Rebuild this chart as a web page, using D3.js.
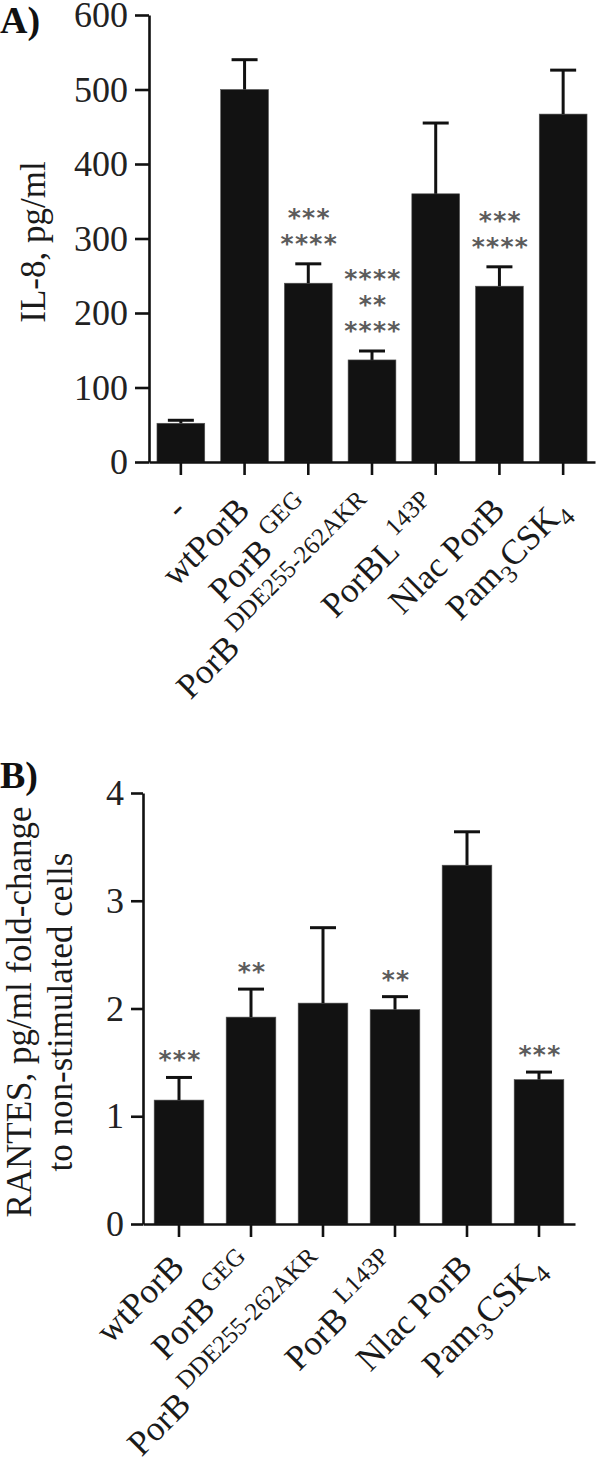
<!DOCTYPE html>
<html>
<head>
<meta charset="utf-8">
<script src="https://cdn.jsdelivr.net/npm/d3@7"></script>
<style>
  body { margin: 0; background: #fff; }
  svg { display: block; }
  text { font-family: "Liberation Serif", "Times New Roman", serif; }
  text.star { font-family: "DejaVu Sans", sans-serif; }
</style>
</head>
<body>
<script>
// panel A: IL-8
var catsA = ["-", "wtPorB", "PorB^{GEG}", "PorB^{DDE255-262AKR}", "PorBL^{143P}", "Nlac PorB", "Pam_{3}CSK_{4}"];
var meansA = [52, 500, 240, 137, 360, 236, 467];
var semA = [4, 40, 26, 12, 95, 26, 59];
var starsA = [[], [], ["***", "****"], ["****", "**", "****"], [], ["***", "****"], []];
var ticksA = [0, 100, 200, 300, 400, 500, 600];

// panel B: RANTES
var catsB = ["wtPorB", "PorB^{GEG}", "PorB^{DDE255-262AKR}", "PorB^{L143P}", "Nlac PorB", "Pam_{3}CSK_{4}"];
var meansB = [1.15, 1.92, 2.05, 1.99, 3.33, 1.34];
var semB = [0.21, 0.26, 0.70, 0.12, 0.31, 0.07];
var starsB = [["***"], ["**"], [], ["**"], [], ["***"]];
var ticksB = [0, 1, 2, 3, 4];

var svg = d3.select("body").append("svg")
  .attr("width", 600)
  .attr("height", 1467);

// writes "PorB^{GEG}" / "Pam_{3}CSK_{4}" as tspans
function addLabel(text, str) {
  var parts = str.split(/([\^_]\{[^}]*\})/).filter(function(p) { return p; });
  var shift = 0;
  parts.forEach(function(p) {
    var target = 0, small = false, sup = false;
    if (p[0] === "^") { target = -16; small = true; sup = true; p = p.slice(2, -1); }
    else if (p[0] === "_") { target = 9; small = true; p = p.slice(2, -1); }
    var t = text.append("tspan").attr("dy", target - shift).text(p);
    if (small) t.attr("font-size", 25);
    if (sup) t.attr("dx", 7);
    shift = target;
  });
}

function drawPanel(o) {
  var g = svg.append("g");

  var x = d3.scaleBand()
    .domain(o.cats)
    .range(o.xRange)
    .paddingInner(o.pad)
    .paddingOuter(o.pad / 2);

  var y = d3.scaleLinear()
    .domain([0, o.ticks[o.ticks.length - 1]])
    .range(o.yRange);

  var x0 = o.xRange[0], yBase = o.yRange[0];

  // bars
  g.selectAll("rect.bar")
    .data(o.means)
    .enter().append("rect")
    .attr("class", "bar")
    .attr("x", function(d, i) { return x(o.cats[i]); })
    .attr("y", function(d) { return y(d); })
    .attr("width", x.bandwidth())
    .attr("height", function(d) { return yBase - y(d); })
    .attr("fill", "#121212")
    .attr("stroke", "#555")
    .attr("stroke-width", 0.6);

  // error bars (upper only)
  var cx = function(i) { return x(o.cats[i]) + x.bandwidth() / 2; };
  g.selectAll("line.err")
    .data(o.means)
    .enter().append("line")
    .attr("x1", function(d, i) { return cx(i); })
    .attr("x2", function(d, i) { return cx(i); })
    .attr("y1", function(d) { return y(d); })
    .attr("y2", function(d, i) { return y(d + o.sem[i]); })
    .attr("stroke", "#111").attr("stroke-width", 3);
  g.selectAll("line.cap")
    .data(o.means)
    .enter().append("line")
    .attr("x1", function(d, i) { return cx(i) - 13; })
    .attr("x2", function(d, i) { return cx(i) + 13; })
    .attr("y1", function(d, i) { return y(d + o.sem[i]); })
    .attr("y2", function(d, i) { return y(d + o.sem[i]); })
    .attr("stroke", "#111").attr("stroke-width", 3);

  // significance stars, one text per bar, one tspan per line
  o.stars.forEach(function(lines, i) {
    if (!lines.length) return;
    var top = y(o.means[i] + o.sem[i]);
    var n = lines.length;
    var t = g.append("text")
      .attr("class", "star")
      .attr("text-anchor", "middle")
      .attr("font-weight", "bold")
      .attr("font-size", 25)
      .attr("letter-spacing", 1.3)
      .attr("fill", "#5c5c5c");
    lines.forEach(function(s, k) {
      var c = top - o.starGap - (n - 1 - k) * 26;
      t.append("tspan")
        .attr("x", cx(i) + 1)
        .attr("y", c + 15)
        .text(s);
    });
  });

  // axes
  var yAxis = g.append("g")
    .attr("transform", "translate(" + x0 + ",0)")
    .call(d3.axisLeft(y).tickValues(o.ticks).tickFormat(d3.format("d"))
      .tickSize(o.yTick).tickSizeOuter(0).tickPadding(7));
  var xAxis = g.append("g")
    .attr("transform", "translate(0," + yBase + ")")
    .call(d3.axisBottom(x).tickSize(13).tickSizeOuter(0).tickFormat(""));

  [yAxis, xAxis].forEach(function(a) {
    a.selectAll("path, line").attr("stroke", "#111").attr("stroke-width", 2.6);
  });
  yAxis.selectAll("text")
    .attr("font-family", null)
    .attr("font-size", 36)
    .attr("fill", "#222");

  // category labels, rotated
  o.cats.forEach(function(c, i) {
    var ax = cx(i) + 7, ay = yBase + o.labelDrop;
    var t = g.append("text")
      .attr("transform", "translate(" + ax + "," + ay + ") rotate(-45)")
      .attr("text-anchor", "end")
      .attr("font-size", 35)
      .attr("fill", "#1a1a1a");
    addLabel(t, c);
  });

  // y title
  o.yTitle.forEach(function(line, k) {
    g.append("text")
      .attr("transform", "translate(" + o.yTitleX[k] + "," + o.yTitleY + ") rotate(-90)")
      .attr("text-anchor", "middle")
      .attr("font-size", 35)
      .attr("fill", "#1a1a1a")
      .text(line);
  });

  // panel letter
  g.append("text")
    .attr("x", 0)
    .attr("y", o.letterY)
    .attr("font-size", 38)
    .attr("font-weight", "bold")
    .attr("fill", "#111")
    .text(o.letter);
}

drawPanel({
  letter: "A)", letterY: 33,
  cats: catsA, means: meansA, sem: semA, stars: starsA, ticks: ticksA,
  xRange: [149, 595], yRange: [462, 15], pad: 0.25, yTick: 14,
  starGap: 27, labelDrop: 50,
  yTitle: ["IL-8, pg/ml"], yTitleX: [45], yTitleY: 242
});

drawPanel({
  letter: "B)", letterY: 788,
  cats: catsB, means: meansB, sem: semB, stars: starsB, ticks: ticksB,
  xRange: [143, 575], yRange: [1224, 793], pad: 0.31, yTick: 12,
  starGap: 24, labelDrop: 45,
  yTitle: ["RANTES, pg/ml fold-change", "to non-stimulated cells"], yTitleX: [31, 72], yTitleY: 1012
});
</script>
</body>
</html>
